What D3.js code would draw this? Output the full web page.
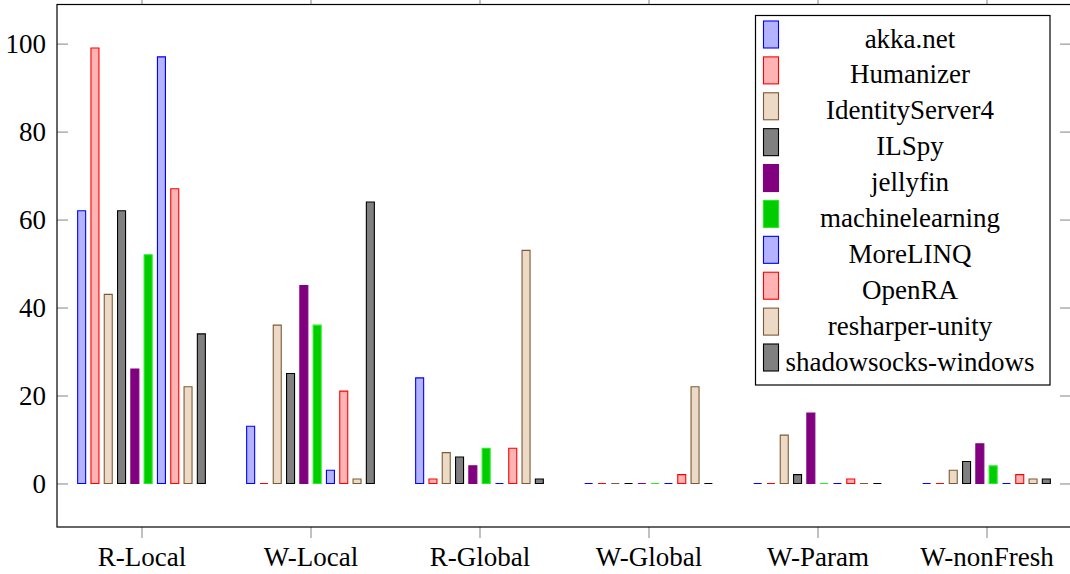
<!DOCTYPE html>
<html>
<head>
<meta charset="utf-8">
<script src="https://cdn.jsdelivr.net/npm/d3@7"></script>
</head>
<body style="margin:0">
<svg id="chart" width="1070" height="574" font-family="Liberation Serif"></svg>
<script>
const categories = ["R-Local", "W-Local", "R-Global", "W-Global", "W-Param", "W-nonFresh"];
const seriesNames = ["akka.net", "Humanizer", "IdentityServer4", "ILSpy", "jellyfin",
  "machinelearning", "MoreLINQ", "OpenRA", "resharper-unity", "shadowsocks-windows"];
const akka            = [62, 13, 24, 0, 0, 0];
const humanizer       = [99, 0, 1, 0, 0, 0];
const identityServer4 = [43, 36, 7, 0, 11, 3];
const ilspy           = [62, 25, 6, 0, 2, 5];
const jellyfin        = [26, 45, 4, 0, 16, 9];
const machinelearning = [52, 36, 8, 0, 0, 4];
const moreLinq        = [97, 3, 0, 0, 0, 0];
const openRA          = [67, 21, 8, 2, 1, 2];
const resharperUnity  = [22, 1, 53, 22, 0, 1];
const shadowsocks     = [34, 64, 1, 0, 0, 1];
const yTicks = [0, 20, 40, 60, 80, 100];

const seriesValues = [akka, humanizer, identityServer4, ilspy, jellyfin,
  machinelearning, moreLinq, openRA, resharperUnity, shadowsocks];
const strokes = ["#0000ff", "#ff0000", "#7d5a36", "#000000", "#800080",
  "#22ee22", "#0000ff", "#ff0000", "#7d5a36", "#000000"];
const fills = ["#b3b3ff", "#ffb3b3", "#ecd9c6", "#808080", "#800080",
  "#00cc00", "#b3b3ff", "#ffb3b3", "#ecd9c6", "#808080"];

const FF = "Liberation Serif";
const FS = 27;

const svg = d3.select("#chart");
const L = 57, R = 1071, T = 4.5, B = 527;

const x = d3.scalePoint().domain(categories).range([L, R]).padding(0.5);
const pi = 1 - 8 / 13.3;
const xs = d3.scaleBand().domain(seriesNames).range([-66.5, 66.5])
  .paddingInner(pi).paddingOuter(pi / 2);
const y = d3.scaleLinear().domain([-9.9, 108.9]).range([B, T]);

// bars
seriesNames.forEach((name, si) => {
  const g = svg.append("g");
  g.selectAll("path").data(seriesValues[si]).join("path")
    .attr("d", (v, ci) => {
      const x0 = x(categories[ci]) + xs(name);
      const w = xs.bandwidth();
      const y0 = y(0), y1 = y(v);
      return `M${x0},${y0}V${y1}H${x0 + w}V${y0}Z`;
    })
    .attr("fill", fills[si])
    .attr("stroke", strokes[si])
    .attr("stroke-width", 1.1);
});

function styleAxis(g) {
  g.attr("font-family", FF).attr("font-size", FS);
  g.select(".domain").remove();
  g.selectAll(".tick line").attr("stroke", "#a0a0a0").attr("stroke-width", 1.3);
  g.selectAll(".tick text").attr("fill", "#000")
    .attr("font-family", FF).attr("font-size", FS);
}

svg.append("g").attr("transform", `translate(${L},0)`)
  .call(d3.axisLeft(y).tickValues(yTicks).tickSize(-11).tickPadding(11))
  .call(styleAxis);
svg.append("g").attr("transform", `translate(${R},0)`)
  .call(d3.axisRight(y).tickValues(yTicks).tickSize(-11).tickFormat(""))
  .call(styleAxis);
svg.append("g").attr("transform", `translate(0,${B})`)
  .call(d3.axisBottom(x).tickSize(11).tickPadding(9))
  .call(styleAxis);
svg.append("g").attr("transform", `translate(0,${T})`)
  .call(d3.axisTop(x).tickSize(11).tickFormat(""))
  .call(styleAxis);

// frame
svg.append("rect").attr("x", L).attr("y", T).attr("width", R - L).attr("height", B - T)
  .attr("fill", "none").attr("stroke", "#000").attr("stroke-width", 1.2);

// legend
const lg = svg.append("g");
lg.append("rect").attr("x", 755.5).attr("y", 15.5).attr("width", 294.5).attr("height", 369.5)
  .attr("fill", "#fff").attr("stroke", "#000").attr("stroke-width", 1.2);
const rowY = d3.scaleLinear().domain([0, 9]).range([34.5, 357.5]);
seriesNames.forEach((name, i) => {
  lg.append("rect").attr("x", 763.5).attr("y", rowY(i) - 13.5).attr("width", 15).attr("height", 27)
    .attr("fill", fills[i]).attr("stroke", strokes[i]).attr("stroke-width", 1.1);
  lg.append("text").attr("x", 910).attr("y", rowY(i) + 13)
    .attr("text-anchor", "middle").attr("font-family", FF).attr("font-size", FS)
    .attr("fill", "#000").text(name);
});
</script>
</body>
</html>
